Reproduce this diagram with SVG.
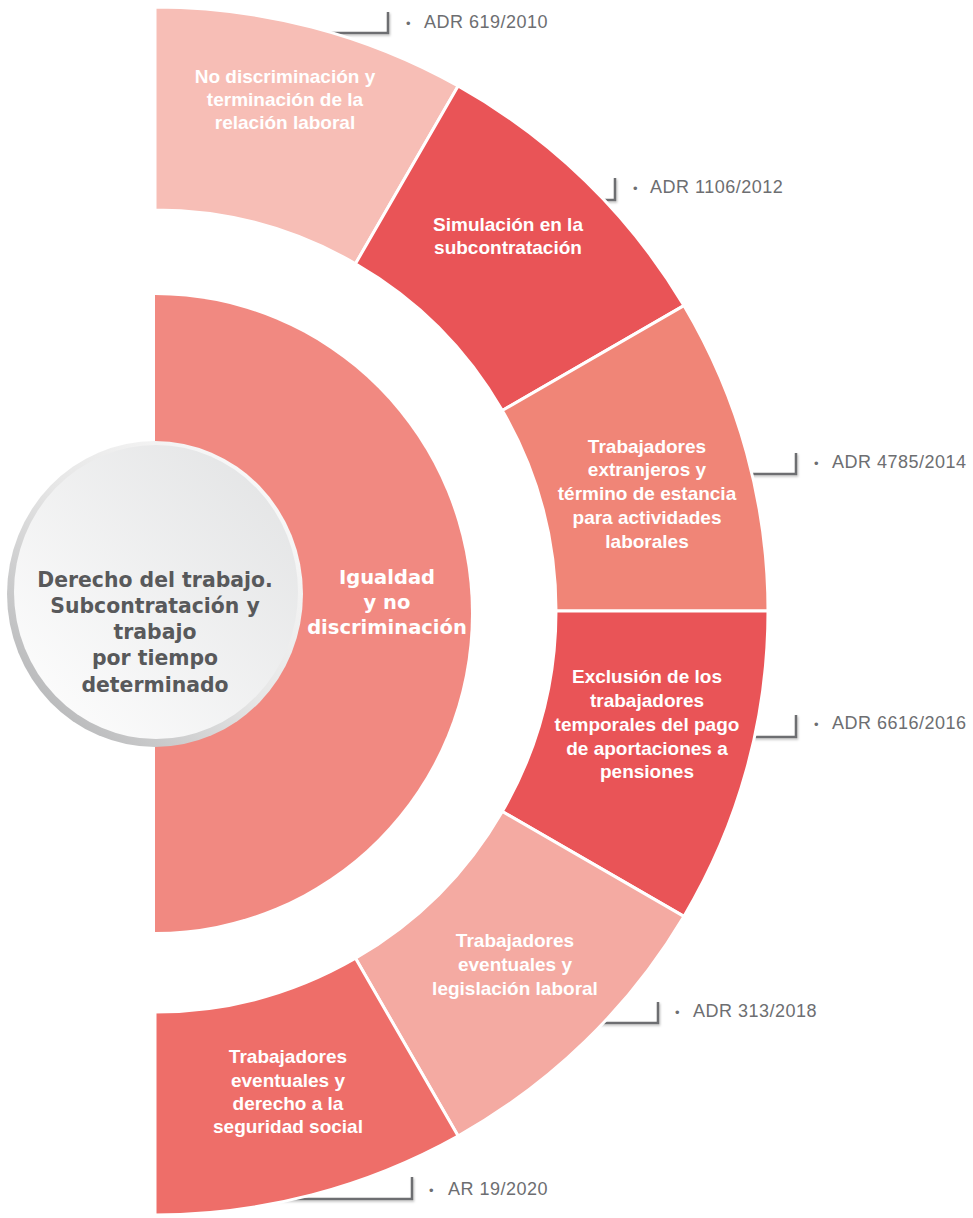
<svg xmlns="http://www.w3.org/2000/svg" width="973" height="1218" viewBox="0 0 973 1218">
<defs>
<style>
.seg{stroke:#fff;stroke-width:3;stroke-linejoin:miter}
.st{font-family:"Liberation Sans",Arial,sans-serif;font-weight:bold;font-size:19px;fill:#fff;text-anchor:middle}
.ct{font-family:"DejaVu Sans",Verdana,sans-serif;font-weight:bold;font-size:19.5px;text-anchor:middle}
.big{font-size:20.4px}
.ref{font-family:"Liberation Sans",Arial,sans-serif;font-size:18px;fill:#6d6e71;letter-spacing:0.5px}
.bul{font-size:13px;letter-spacing:0}
.con{fill:none;stroke:#6d6e71;stroke-width:2.5}
</style>
<filter id="sh" x="-10%" y="-50%" width="130%" height="200%">
<feDropShadow dx="1" dy="1.5" stdDeviation="0.8" flood-color="#000" flood-opacity="0.25"/>
</filter>
<linearGradient id="rim" x1="1" y1="0" x2="0" y2="1">
<stop offset="0" stop-color="#ffffff"/>
<stop offset="0.5" stop-color="#e6e6e6"/>
<stop offset="1" stop-color="#a9aaac"/>
</linearGradient>
<linearGradient id="face" x1="1" y1="0" x2="0" y2="1">
<stop offset="0" stop-color="#e1e2e3"/>
<stop offset="1" stop-color="#ffffff"/>
</linearGradient>
</defs>
<rect width="973" height="1218" fill="#fff"/>

<g id="connectors" filter="url(#sh)">
<path class="con" d="M300,33 H388 V12"/>
<path class="con" d="M580,200 H615 V178"/>
<path class="con" d="M740,474 H796 V453"/>
<path class="con" d="M740,737 H796 V715"/>
<path class="con" d="M590,1023 H658 V1002"/>
<path class="con" d="M200,1199 H412 V1177"/>
</g>

<g id="seg1">
<path class="seg" fill="#F7BEB6" d="M155,210 L155,7 A613,604 0 0 1 458.1,86 L355.5,263.7 A401,401 0 0 0 155,210 Z"/>
<text class="st"><tspan x="285" y="83">No discriminación y</tspan><tspan x="285" y="106">terminación de la</tspan><tspan x="285" y="129">relación laboral</tspan></text>
</g>
<g id="seg2">
<path class="seg" fill="#E95457" d="M355.5,263.7 L458.1,86 A613,604 0 0 1 683.9,305.6 L502.3,410.5 A401,401 0 0 0 355.5,263.7 Z"/>
<text class="st"><tspan x="508" y="231">Simulación en la</tspan><tspan x="508" y="254">subcontratación</tspan></text>
</g>
<g id="seg3">
<path class="seg" fill="#F08577" d="M502.3,410.5 L683.9,305.6 A613,604 0 0 1 768,611 L556,611 A401,401 0 0 0 502.3,410.5 Z"/>
<text class="st"><tspan x="647" y="453">Trabajadores</tspan><tspan x="647" y="476">extranjeros y</tspan><tspan x="647" y="500">término de estancia</tspan><tspan x="647" y="524">para actividades</tspan><tspan x="647" y="548">laborales</tspan></text>
</g>
<g id="seg4">
<path class="seg" fill="#E95457" d="M556,611 L768,611 A613,604 0 0 1 683.9,916.4 L502.3,811.5 A401,401 0 0 0 556,611 Z"/>
<text class="st"><tspan x="647" y="683">Exclusión de los</tspan><tspan x="647" y="707">trabajadores</tspan><tspan x="647" y="731">temporales del pago</tspan><tspan x="647" y="755">de aportaciones a</tspan><tspan x="647" y="778">pensiones</tspan></text>
</g>
<g id="seg5">
<path class="seg" fill="#F4AAA2" d="M502.3,811.5 L683.9,916.4 A613,604 0 0 1 458.1,1136 L355.5,958.3 A401,401 0 0 0 502.3,811.5 Z"/>
<text class="st"><tspan x="515" y="947">Trabajadores</tspan><tspan x="515" y="971">eventuales y</tspan><tspan x="515" y="995">legislación laboral</tspan></text>
</g>
<g id="seg6">
<path class="seg" fill="#EE6E69" d="M355.5,958.3 L458.1,1136 A613,604 0 0 1 155,1215 L155,1012 A401,401 0 0 0 355.5,958.3 Z"/>
<text class="st"><tspan x="288" y="1063">Trabajadores</tspan><tspan x="288" y="1087">eventuales y</tspan><tspan x="288" y="1110">derecho a la</tspan><tspan x="288" y="1133">seguridad social</tspan></text>
</g>

<g id="inner">
<path fill="#F18981" d="M155,295 A316,318.5 0 0 1 155,932 Z"/>
<text class="ct" fill="#fff"><tspan x="387" y="584">Igualdad</tspan><tspan x="387" y="609">y no</tspan><tspan x="387" y="634">discriminación</tspan></text>
</g>

<g id="center">
<ellipse cx="155" cy="594" rx="148" ry="153" fill="url(#rim)"/>
<ellipse cx="156" cy="592" rx="142" ry="147" fill="url(#face)"/>
<text class="ct big" fill="#58595b"><tspan x="155" y="587">Derecho del trabajo.</tspan><tspan x="155" y="613">Subcontratación y</tspan><tspan x="155" y="639">trabajo</tspan><tspan x="155" y="665">por tiempo</tspan><tspan x="155" y="692">determinado</tspan></text>
</g>

<g id="refs">
<text class="ref" y="28"><tspan class="bul" x="406">•</tspan><tspan x="424">ADR 619/2010</tspan></text>
<text class="ref" y="193"><tspan class="bul" x="633">•</tspan><tspan x="650">ADR 1106/2012</tspan></text>
<text class="ref" y="468"><tspan class="bul" x="814">•</tspan><tspan x="832">ADR 4785/2014</tspan></text>
<text class="ref" y="729"><tspan class="bul" x="814">•</tspan><tspan x="832">ADR 6616/2016</tspan></text>
<text class="ref" y="1017"><tspan class="bul" x="675">•</tspan><tspan x="693">ADR 313/2018</tspan></text>
<text class="ref" y="1195"><tspan class="bul" x="429">•</tspan><tspan x="448">AR 19/2020</tspan></text>
</g>
</svg>
